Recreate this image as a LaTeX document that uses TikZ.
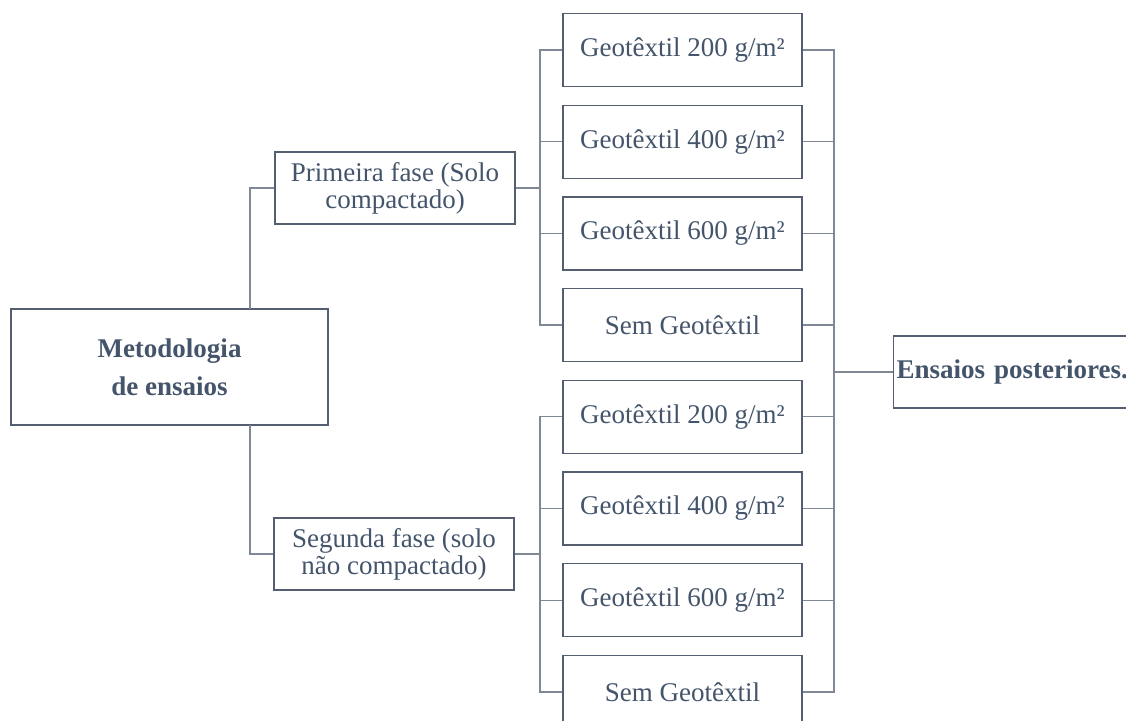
\documentclass[tikz,border=0pt]{standalone}
\usepackage{fontspec}
\setmainfont{Liberation Serif}
\usetikzlibrary{positioning}
\definecolor{txtblue}{RGB}{68,84,106}
\definecolor{boxline}{RGB}{84,94,112}
\definecolor{linkgray}{RGB}{128,136,150}

\begin{document}
\begin{tikzpicture}[x=1pt,y=-1pt,
    every node/.style={font=\fontsize{27}{27}\selectfont,text=txtblue},
    box/.style={draw=boxline,line width=1.3pt,inner sep=0pt,align=center},
    gbox/.style={box,minimum width=239pt,minimum height=73pt},
    fbox/.style={box,minimum width=240pt,minimum height=72pt},
    link/.style={draw=linkgray,line width=1.3pt}]
    \useasboundingbox (0,0) rectangle (1126,720);

    \node[box,minimum width=317pt,minimum height=116pt,
          font=\fontsize{27}{38}\selectfont\bfseries] (meto) at (169.5,367) {Metodologia\\de ensaios};
    \node[fbox] (prim) at (395,188) {Primeira fase (Solo\\compactado)};
    \node[fbox] (seg)  at (394,554) {Segunda fase (solo\\não compactado)};

    % ensaios por geotextil
    \foreach \i/\t in {1/{Geotêxtil 200 g/m²},2/{Geotêxtil 400 g/m²},
                       3/{Geotêxtil 600 g/m²},4/{Sem Geotêxtil},
                       5/{Geotêxtil 200 g/m²},6/{Geotêxtil 400 g/m²},
                       7/{Geotêxtil 600 g/m²},8/{Sem Geotêxtil}}
        \node[gbox] (g\i) at (682.5,{50+91.7*(\i-1)}) {\t};

    \node[box,anchor=west,minimum height=72pt,text width=262pt,align=left,
          inner xsep=3pt,font=\fontsize{27}{27}\selectfont\bfseries] (ens) at (893,372) {Ensaios posteriores.};

    \coordinate (mt) at (250,309);
    \coordinate (mb) at (250,425);
    \coordinate (jp) at (540,188);
    \coordinate (js) at (540,554);
    \coordinate (jr) at (834,372);

    \path[link]
        (prim.west) -| (mt)
        (seg.west) -| (mb)
        (prim.east) -- (jp)
        (seg.east) -- (js)
        (jr) -- (ens.west);
    \foreach \i in {1,...,4}
        \path[link] (g\i.west) -| (jp);
    \foreach \i in {5,...,8}
        \path[link] (g\i.west) -| (js);
    \foreach \i in {1,...,8}
        \path[link] (g\i.east) -| (jr);
\end{tikzpicture}
\end{document}
